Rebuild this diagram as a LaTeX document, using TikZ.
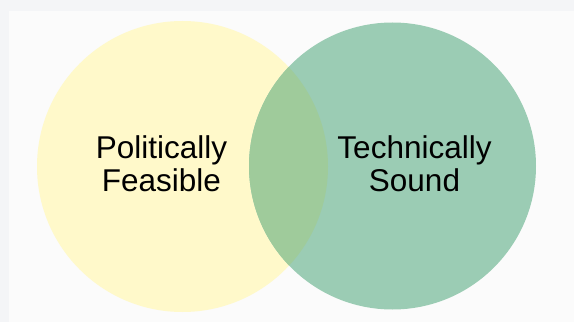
\documentclass[tikz,border=0pt]{standalone}
\usepackage{fontspec}
\setmainfont{Liberation Sans}
\definecolor{outerbg}{HTML}{F4F5F7}
\definecolor{innerbg}{HTML}{FBFBFB}
\definecolor{feasible}{HTML}{FFF9CA}
\definecolor{sound}{HTML}{9BCCB4}
\definecolor{both}{HTML}{9FCB9B}
\tikzset{
    setlabel/.style={align=center,font=\fontsize{31.5}{33}\selectfont,text=black}
}
\begin{document}
\begin{tikzpicture}[x=1pt,y=1pt]
                \useasboundingbox (0,0) rectangle (574,322);
                \fill[outerbg] (0,0) rectangle (574,322);
                \fill[innerbg] (9,0) rectangle (574,311);
                \fill[feasible] (182.5,155.5) circle (145.5);
                \fill[sound] (392.5,156) circle (143.5);
                \begin{scope}
                    \clip (182.5,155.5) circle (145.5);
                    \fill[both] (392.5,156) circle (143.5);
                \end{scope}
                \node[setlabel] (politic) at (161.5,158) {Politically\\Feasible};
                \node[setlabel] (technic) at (414.5,158) {Technically\\Sound};
            \end{tikzpicture}
\end{document}
